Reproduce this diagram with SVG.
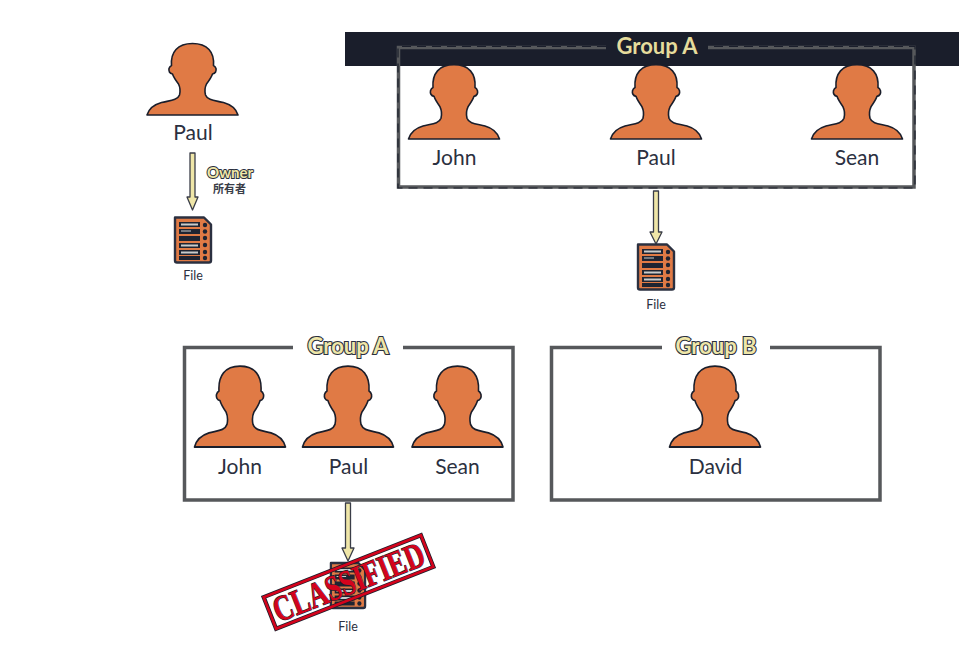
<svg xmlns="http://www.w3.org/2000/svg" width="974" height="651" viewBox="0 0 974 651">
<style>
.name{font-family:Lato,"Open Sans","Liberation Sans",sans-serif;font-size:21px;fill:#2b3040;text-anchor:middle}
.file{font-family:Lato,"Open Sans","Liberation Sans",sans-serif;font-size:12.5px;fill:#2b3040;text-anchor:middle}
.grp{font-family:Lato,"Open Sans","Liberation Sans",sans-serif;font-size:22px;font-weight:700;fill:#efe6a8;stroke:#2b3040;stroke-width:2.2px;paint-order:stroke;text-anchor:middle}
.grpd{font-family:Lato,"Open Sans","Liberation Sans",sans-serif;font-size:22px;font-weight:700;fill:#e6dc9c;text-anchor:middle}
.frame{fill:none;stroke:#56585b;stroke-width:3.5}
.dash{fill:none;stroke:#1a1e2b;stroke-width:1.2;stroke-dasharray:9 6}
.conn{fill:#efe6a8;stroke:#3a3d48;stroke-width:1.3;stroke-linejoin:round}
.stamp{font-family:"Liberation Serif",serif;font-size:36px;font-weight:700;fill:#d4031c;stroke:#1a1e2b;stroke-width:1.2px;paint-order:stroke;text-anchor:middle}
</style>
<defs>
<path id="person" fill="#e07a45" stroke="#1a1e2b" stroke-width="1.6" stroke-linejoin="round" d="M-45.500,0C-44,-5 -40,-10 -31,-12.500C-23,-14.500 -15,-14.500 -13,-20C-12,-24 -12.500,-28 -14,-31C-17,-35 -19,-38 -20,-41C-23,-41.500 -24,-44 -23.500,-46.500C-23,-48 -22,-49 -21,-49.500C-22,-63 -15,-71.500 0,-71.500C15,-71.500 22,-63 21,-49.500C22,-49 23,-48 23.500,-46.500C24,-44 23,-41.500 20,-41C19,-38 17,-35 14,-31C12.500,-28 12,-24 13,-20C15,-14.500 23,-14.500 31,-12.500C40,-10 44,-5 45.500,0Z"/>
<g id="doc">
<path d="M-18,-22.500H11L18,-15.500V20.500Q18,22.500 16,22.500H-16Q-18,22.500 -18,20.500Z" fill="#e07a45" stroke="#2b3040" stroke-width="2.4" stroke-linejoin="round"/>
<g fill="#1f2432">
<rect x="-14" y="-18" width="21" height="5"/><rect x="-14" y="-11" width="21" height="5"/><rect x="-14" y="-4" width="21" height="5"/><rect x="-14" y="3" width="21" height="5"/><rect x="-14" y="10" width="21" height="5"/><rect x="-14" y="16" width="21" height="4"/>
<circle cx="12" cy="-15" r="2.200"/><circle cx="12" cy="-8.500" r="2.200"/><circle cx="12" cy="-2" r="2.200"/><circle cx="12" cy="5" r="2.200"/><circle cx="12" cy="12" r="2.200"/><circle cx="12" cy="18" r="2.200"/>
</g>
<g fill="#c9cbcb"><rect x="-12" y="-16.500" width="17" height="2"/><rect x="-12" y="-9.500" width="10" height="1"/><rect x="-12" y="4.500" width="17" height="2"/><rect x="-12" y="11.500" width="17" height="2"/></g>
</g>
</defs>

<rect id="bar" x="345" y="32" width="614" height="34" fill="#1a1e2b"/>

<g id="connectors">
<path class="conn" d="M190,153H195V197H198L192.500,210L187,197H190Z"/>
<path class="conn" d="M653.500,191H658.500V232H662L656,244L650,232H653.500Z"/>
<path class="conn" d="M345.500,503H350.500V548H354L348,561L342,548H345.500Z"/>
</g>

<g id="owner-paul"><use href="#person" transform="translate(192.500 115)"/><text class="name" x="193" y="140">Paul</text></g>
<g id="owner-label">
<text x="230" y="178" font-family="Lato,'Open Sans','Liberation Sans',sans-serif" font-size="15" font-weight="700" fill="#efe6a8" stroke="#2b3040" stroke-width="2" paint-order="stroke" text-anchor="middle">Owner</text>
<text x="229.500" y="193" font-family="'Noto Sans CJK SC',sans-serif" font-size="11" font-weight="700" fill="#3a3d48" text-anchor="middle">所有者</text>
</g>
<g id="file-1"><use href="#doc" x="193" y="240"/><text class="file" x="193" y="280">File</text></g>

<g id="group-a-top">
<path class="frame" d="M606,47.500H398.500V187H914V47.500H708"/>
<path class="dash" d="M606,46.500H398V188H915V46.500H708"/>
<text class="grpd" x="657" y="54">Group A</text>
<use href="#person" transform="translate(454 139) scale(1 1.040)"/><text class="name" x="454.500" y="165">John</text>
<use href="#person" transform="translate(656 139) scale(1 1.040)"/><text class="name" x="656" y="165">Paul</text>
<use href="#person" transform="translate(857 139) scale(1 1.040)"/><text class="name" x="857" y="165">Sean</text>
</g>
<g id="file-2"><use href="#doc" x="656" y="267"/><text class="file" x="656" y="309">File</text></g>

<g id="group-a-bottom">
<path class="frame" d="M293,347.500H184.500V500H513V347.500H403"/>
<text class="grp" x="348" y="354">Group A</text>
<use href="#person" transform="translate(240 447) scale(1 1.130)"/><text class="name" x="240" y="474">John</text>
<use href="#person" transform="translate(348 447) scale(1 1.130)"/><text class="name" x="348.500" y="474">Paul</text>
<use href="#person" transform="translate(457.500 447) scale(1 1.130)"/><text class="name" x="457.500" y="474">Sean</text>
</g>

<g id="group-b">
<path class="frame" d="M662,347.500H551.500V500H880V347.500H770"/>
<text class="grp" x="716" y="354">Group B</text>
<use href="#person" transform="translate(715 447) scale(1 1.130)"/><text class="name" x="715.500" y="474">David</text>
</g>

<g id="file-3"><use href="#doc" transform="translate(348 585.500) scale(.95 1)"/><text class="file" x="348" y="631">File</text></g>
<g id="classified" transform="rotate(-21.500 348.500 582)">
<rect x="264" y="565" width="169" height="34" fill="none" stroke="#1a1e2b" stroke-width="4.200"/>
<rect x="264" y="565" width="169" height="34" fill="none" stroke="#d4031c" stroke-width="2.600"/>
<text class="stamp" x="348.500" y="594" textLength="160" lengthAdjust="spacingAndGlyphs">CLASSIFIED</text>
</g>
</svg>
